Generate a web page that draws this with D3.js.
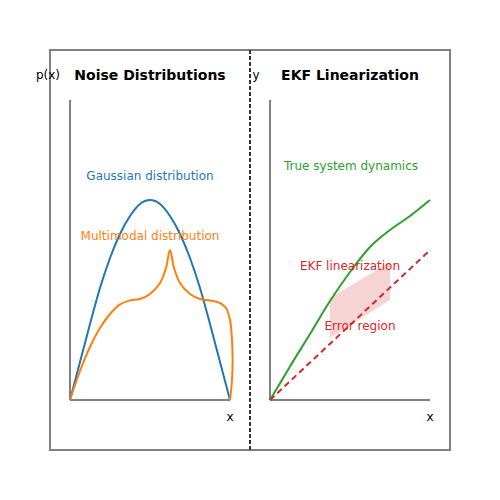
<!DOCTYPE html>
<html>
<head>
<meta charset="utf-8">
<script src="https://cdn.jsdelivr.net/npm/d3@7"></script>
<style>
  body { margin: 0; background: #fff; }
  text { font-family: "DejaVu Sans", sans-serif; }
</style>
</head>
<body>
<div id="chart"></div>
<script>
// panel titles and axis labels
const titles = ["Noise Distributions", "EKF Linearization"];
const yLabels = ["p(x)", "y"];

// left panel: gaussian sampled every 0.5
const gaussX = [0, 0.5, 1, 1.5, 2, 2.5, 3, 3.5, 4, 4.5, 5, 5.5, 6, 6.5, 7, 7.5, 8];
const gaussY = [0, 1.9, 3.8, 5.6, 7.1, 8.3, 9.2, 9.8, 10, 9.8, 9.2, 8.3, 7.1, 5.6, 3.8, 1.9, 0];

// multimodal curve (goes a little past x=8 on the way down)
const multiX = [0, 0.5, 1, 1.5, 2, 2.5, 3, 3.5, 4, 4.5, 4.8, 5, 5.2, 5.5, 6, 6.5, 7, 7.5, 7.8, 8, 8.1, 8.13, 8.1, 8];
const multiY = [0, 1.45, 2.65, 3.6, 4.3, 4.78, 4.98, 5.05, 5.3, 5.85, 6.6, 7.5, 6.6, 5.85, 5.3, 5.05, 4.98, 4.85, 4.6, 4.0, 3.0, 2.0, 1.0, 0];

// right panel: true dynamics, linearization, error region
const trueX = [0, 1, 2, 3, 4, 5, 6, 7, 8];
const trueY = [0, 1.68, 3.3, 4.95, 6.4, 7.65, 8.5, 9.2, 10];
const linX = [0, 7.9];
const linY = [0, 7.4];
const errX = [3, 6, 6, 3];
const errY = [5.1, 6.9, 5, 3.1];

const colors = {gauss: "#1f77b4", multi: "#ff7f0e", truth: "#2ca02c", ekf: "#d62728"};

const svg = d3.select("#chart")
  .append("svg")
  .attr("width", 500)
  .attr("height", 500);

// outer frame
svg.append("rect")
  .attr("x", 50).attr("y", 50)
  .attr("width", 400).attr("height", 400)
  .attr("fill", "none")
  .attr("stroke", "#808080")
  .attr("stroke-width", 2);

// divider
svg.append("line")
  .attr("x1", 250).attr("x2", 250)
  .attr("y1", 50).attr("y2", 450)
  .attr("stroke", "#333")
  .attr("stroke-width", 2)
  .attr("stroke-dasharray", "4,2");

const y = d3.scaleLinear().domain([0, 15]).range([400, 100]);
const xLeft = d3.scaleLinear().domain([0, 8]).range([70, 230]);
const xRight = d3.scaleLinear().domain([0, 8]).range([270, 430]);

[xLeft, xRight].forEach((x, i) => {
  const g = svg.append("g");
  const [x0, x1] = x.range();

  g.append("line")
    .attr("x1", x0).attr("x2", x0)
    .attr("y1", y(0)).attr("y2", y(15))
    .attr("stroke", "#808080").attr("stroke-width", 2);
  g.append("line")
    .attr("x1", x0).attr("x2", x1)
    .attr("y1", y(0)).attr("y2", y(0))
    .attr("stroke", "#808080").attr("stroke-width", 2);

  g.append("text")
    .attr("x", x1).attr("y", 421)
    .attr("text-anchor", "middle")
    .style("font-size", "12px")
    .text("x");

  g.append("text")
    .attr("x", i === 0 ? 48 : 256).attr("y", 79)
    .attr("text-anchor", "middle")
    .style("font-size", "12px")
    .text(yLabels[i]);

  g.append("text")
    .attr("x", i === 0 ? 150 : 350).attr("y", 80)
    .attr("text-anchor", "middle")
    .style("font-size", "14px")
    .style("font-weight", "bold")
    .text(titles[i]);
});

const zip = (xs, ys) => xs.map((v, i) => [v, ys[i]]);

const lineL = d3.line().x(d => xLeft(d[0])).y(d => y(d[1]));
const lineR = d3.line().x(d => xRight(d[0])).y(d => y(d[1]));

// error region first so the lines sit on top
svg.append("path")
  .datum(zip(errX, errY))
  .attr("d", lineR.curve(d3.curveLinearClosed))
  .attr("fill", colors.ekf)
  .attr("fill-opacity", 0.2);

svg.append("path")
  .datum(zip(gaussX, gaussY))
  .attr("d", lineL.curve(d3.curveMonotoneX))
  .attr("fill", "none")
  .attr("stroke", colors.gauss)
  .attr("stroke-width", 2);

svg.append("path")
  .datum(zip(multiX, multiY))
  .attr("d", lineL.curve(d3.curveCatmullRom.alpha(0.5)))
  .attr("fill", "none")
  .attr("stroke", colors.multi)
  .attr("stroke-width", 2);

svg.append("path")
  .datum(zip(trueX, trueY))
  .attr("d", lineR.curve(d3.curveMonotoneX))
  .attr("fill", "none")
  .attr("stroke", colors.truth)
  .attr("stroke-width", 2);

svg.append("path")
  .datum(zip(linX, linY))
  .attr("d", lineR.curve(d3.curveLinear))
  .attr("fill", "none")
  .attr("stroke", colors.ekf)
  .attr("stroke-width", 2)
  .attr("stroke-dasharray", "6,4");

// annotations
const notes = [
  {x: 150, y: 180, text: "Gaussian distribution", color: colors.gauss},
  {x: 150, y: 240, text: "Multimodal distribution", color: colors.multi},
  {x: 351, y: 170, text: "True system dynamics", color: colors.truth},
  {x: 350, y: 270, text: "EKF linearization", color: colors.ekf},
  {x: 360, y: 330, text: "Error region", color: colors.ekf}
];

svg.selectAll(".note")
  .data(notes)
  .enter()
  .append("text")
  .attr("class", "note")
  .attr("x", d => d.x)
  .attr("y", d => d.y)
  .attr("text-anchor", "middle")
  .style("font-size", "12px")
  .style("fill", d => d.color)
  .text(d => d.text);
</script>
</body>
</html>
